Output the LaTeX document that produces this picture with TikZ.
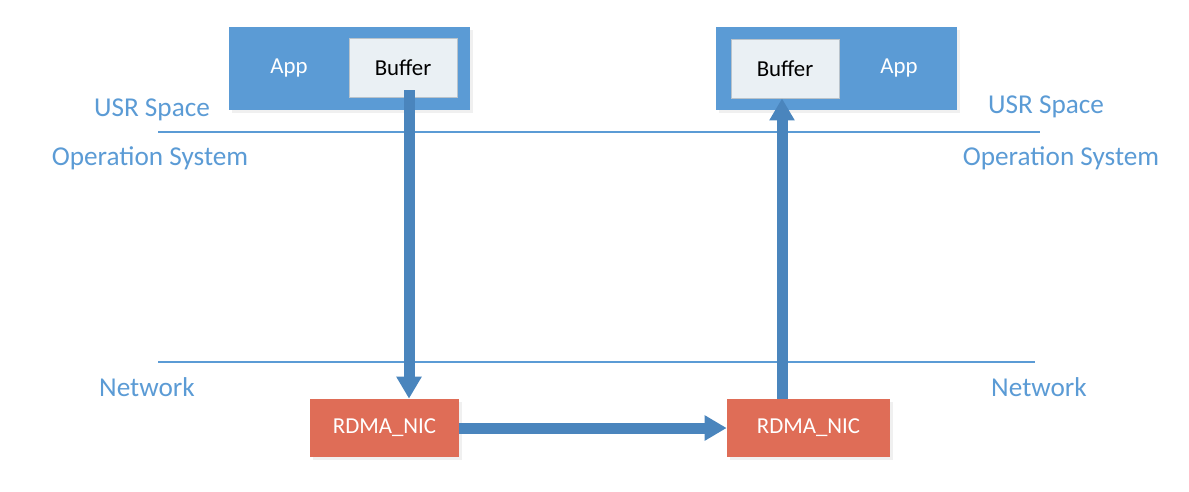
\documentclass[tikz,border=0pt]{standalone}
\usepackage{fontspec}
\setmainfont{Carlito}
\usepackage{xcolor}
\definecolor{appblue}{HTML}{5B9BD5}
\definecolor{bufgray}{HTML}{EAF0F4}
\definecolor{bufline}{HTML}{B9C3CB}
\definecolor{nicred}{HTML}{DF6D57}
\definecolor{flowblue}{HTML}{4A85BD}
\usepackage{tikz}
\usetikzlibrary{arrows.meta,positioning,calc,shadows}
\tikzset{appbox/.style={fill=appblue,draw=none,minimum width=4.82cm,minimum height=1.66cm,inner sep=0pt,drop shadow={opacity=0.12,shadow xshift=1.5pt,shadow yshift=-1.5pt}},bufbox/.style={fill=bufgray,draw=bufline,line width=0.5pt,minimum width=2.16cm,minimum height=1.18cm,inner sep=0pt,font=\fontsize{13}{15}\selectfont},nicbox/.style={fill=nicred,draw=none,text=white,minimum height=1.16cm,inner sep=0pt,font=\fontsize{13}{15}\selectfont,drop shadow={opacity=0.12,shadow xshift=1.5pt,shadow yshift=-1.5pt}},flow/.style={-{Triangle[width=0.48cm,length=0.44cm]},draw=flowblue,line width=0.22cm},layer/.style={draw=appblue,line width=0.9pt},lbl/.style={text=appblue,font=\fontsize{15.5}{18}\selectfont,inner sep=0pt}}
\begin{document}
\begin{tikzpicture}[x=0.02cm,y=-0.02cm]
\useasboundingbox (0,0) rectangle (1189,491);
% hosts
\node[appbox] (appL) at (349.5,68.5) {};
\node[appbox] (appR) at (836.5,68.5) {};
\node[bufbox] (bufL) at (403,67.5) {Buffer};
\node[bufbox] (bufR) at (785,68.5) {Buffer};
\node[text=white,font=\fontsize{13}{15}\selectfont] (appLt) at (289,68) {App};
\node[text=white,font=\fontsize{13}{15}\selectfont] (appRt) at (899,68) {App};
% layers
\draw[layer] (158,132) -- (1040,132);
\draw[layer] (158,362) -- (1035,362);
\foreach \x/\y/\id/\txt in {152/110/usrL/USR Space,150/158/osL/Operation System,147/387/netL/Network,1046/107/usrR/USR Space,1061/158/osR/Operation System,1039/387/netR/Network}{\node[lbl] (\id) at (\x,\y) {\txt};}
% nics
\node[nicbox,minimum width=2.98cm] (nicL) at (384.5,428) {RDMA\_NIC};
\node[nicbox,minimum width=3.26cm] (nicR) at (808.5,428) {RDMA\_NIC};
% data path
\draw[flow] ([xshift=0.12cm,yshift=0.14cm]bufL.south) -- ([xshift=0.12cm]bufL.south |- nicL.north);
\draw[flow] (nicL.east) -- (nicR.west);
\draw[flow] ([xshift=-0.06cm]bufR.south |- nicR.north) -- ([xshift=-0.06cm]bufR.south);
\end{tikzpicture}
\end{document}
